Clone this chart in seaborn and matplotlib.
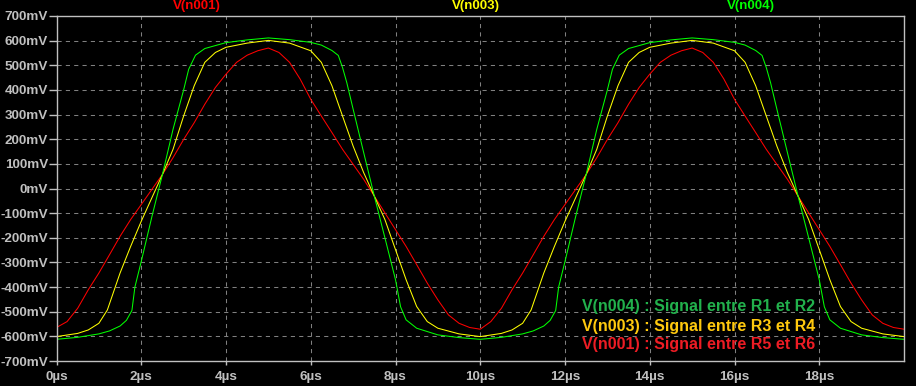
import matplotlib
matplotlib.use("Agg")
import matplotlib.pyplot as plt
import seaborn as sns
import numpy as np
import pandas as pd

# valeurs lues sur une période (µs, mV), la 2e période est identique
t_n004 = [0, 0.5, 1.0, 1.25, 1.5, 1.65, 1.78, 1.85, 2.0, 2.25, 2.5, 2.75, 3.0, 3.12,
          3.28, 3.5, 4.0, 4.5, 5.0, 5.5, 6.0, 6.25, 6.5, 6.65, 6.75, 6.85, 7.0, 7.25,
          7.5, 7.75, 8.0, 8.12, 8.25, 8.5, 9.0, 9.5, 10.0]
v_n004 = [-612, -604, -590, -578, -558, -535, -495, -400, -296, -115, 57, 240, 400, 484,
          541, 568, 592, 603, 611, 604, 593, 582, 560, 540, 491, 430, 322, 145,
          -31, -200, -370, -480, -533, -567, -594, -605, -612]

t_n003 = [0, 0.5, 0.75, 1.0, 1.2, 1.5, 1.75, 2.0, 2.25, 2.5, 2.75, 3.0, 3.25, 3.5, 3.75,
          4.0, 4.5, 5.0, 5.5, 6.0, 6.25, 6.5, 6.75, 7.0, 7.25, 7.5, 7.75, 8.0, 8.25,
          8.5, 8.75, 9.0, 9.5, 10.0]
v_n003 = [-601, -588, -574, -547, -493, -343, -235, -133, -38, 57, 159, 294, 417, 512, 552,
          573, 590, 601, 590, 559, 512, 417, 294, 172, 64, -31, -126, -248, -370,
          -479, -540, -567, -590, -601]

t_n001 = [0, 0.25, 0.5, 0.75, 1.0, 1.25, 1.5, 1.75, 2.0, 2.25, 2.5, 2.75, 3.0, 3.25, 3.5,
          3.75, 4.0, 4.25, 4.5, 4.75, 5.0, 5.25, 5.5, 5.75, 6.0, 6.25, 6.5, 6.75, 7.0,
          7.25, 7.5, 7.75, 8.0, 8.25, 8.5, 8.75, 9.0, 9.25, 9.5, 9.75, 10.0]
v_n001 = [-564, -540, -486, -411, -343, -269, -194, -126, -65, -4, 57, 125, 199, 267, 342,
          410, 464, 512, 541, 559, 570, 552, 512, 444, 362, 294, 227, 159, 98,
          37, -31, -99, -167, -235, -309, -384, -452, -513, -547, -564, -571]

noms = ["V(n001)", "V(n003)", "V(n004)"]
couleurs = {"V(n001)": "#ff0000", "V(n003)": "#ffff00", "V(n004)": "#00ff00"}
legendes = ["V(n004) : Signal entre R1 et R2",
            "V(n003) : Signal entre R3 et R4",
            "V(n001) : Signal entre R5 et R6"]
couleurs_legende = ["#22b14c", "#ffc90e", "#ed1c24"]
x_ticks = [0, 2, 4, 6, 8, 10, 12, 14, 16, 18]
y_ticks = list(range(-700, 701, 100))


def deux_periodes(t, v):
    t = np.asarray(t, dtype=float)
    v = np.asarray(v, dtype=float)
    return np.concatenate([t, t[1:] + 10]), np.concatenate([v, v[1:]])


frames = []
for nom, (t, v) in zip(noms, [(t_n001, v_n001), (t_n003, v_n003), (t_n004, v_n004)]):
    tt, vv = deux_periodes(t, v)
    frames.append(pd.DataFrame({"t": tt, "v": vv, "signal": nom}))
df = pd.concat(frames, ignore_index=True)

sns.set_style("dark", rc={"axes.facecolor": "black", "figure.facecolor": "black",
                          "axes.edgecolor": "#c0c0c0"})
plt.rcParams["font.family"] = ["Liberation Sans", "DejaVu Sans"]

fig = plt.figure(figsize=(9.16, 3.86), dpi=100)
ax = fig.add_axes([56.5 / 916, 25 / 386, (904 - 56.5) / 916, (361 - 16) / 386])

sns.lineplot(data=df, x="t", y="v", hue="signal", hue_order=noms, palette=couleurs,
             legend=False, linewidth=0.75, sort=False, ax=ax)

ax.set_xlim(0, 20)
ax.set_ylim(-700, 700)
ax.set_xticks(x_ticks)
ax.set_xticklabels([f"{x}µs" for x in x_ticks])
ax.set_yticks(y_ticks)
ax.set_yticklabels([f"{y}mV" for y in y_ticks])
ax.set_xlabel("")
ax.set_ylabel("")

for x in x_ticks[1:]:
    ax.axvline(x, color="#808080", linewidth=0.75, linestyle=(0, (4, 4)), zorder=0)
for y in y_ticks[1:-1]:
    ax.axhline(y, color="#808080", linewidth=0.75, linestyle=(0, (4, 4)), zorder=0)

ax.tick_params(axis="y", colors="#c0c0c0", length=5.5, width=1, pad=0.5,
               labelsize=9.7, left=True)
ax.tick_params(axis="x", colors="#c0c0c0", length=3, width=1, pad=4,
               labelsize=9.7, bottom=True)
for lab in ax.get_xticklabels() + ax.get_yticklabels():
    lab.set_fontweight("bold")
for sp in ax.spines.values():
    sp.set_color("#c0c0c0")
    sp.set_linewidth(1)

# étiquettes des traces en haut
for nom, xc in zip(noms, [197, 476, 751]):
    fig.text(xc / 916, 1 - 6 / 386, nom, color=couleurs[nom], fontsize=9.5,
             fontweight="bold", ha="center", va="center")

# légende écrite à la main
for texte, c, yp in zip(legendes, couleurs_legende, [307, 326, 345]):
    fig.text(582 / 916, 1 - yp / 386, texte, color=c, fontsize=11.5,
             fontweight="bold", ha="left", va="center")

fig.savefig("out.png", dpi=100, facecolor="black")
